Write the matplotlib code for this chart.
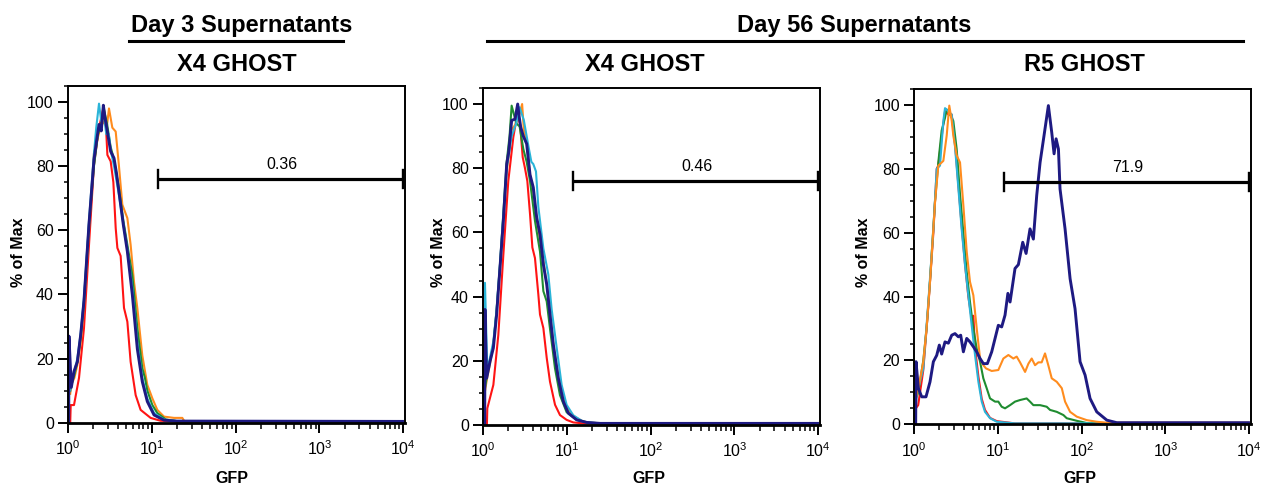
import numpy as np
import matplotlib
matplotlib.use("Agg")
import matplotlib.pyplot as plt
from matplotlib.lines import Line2D
from matplotlib.ticker import LogLocator, MultipleLocator, NullFormatter

plt.rcParams['font.family'] = ['Liberation Sans', 'DejaVu Sans']
plt.rcParams['mathtext.fontset'] = 'custom'
plt.rcParams['mathtext.rm'] = 'Liberation Sans'
plt.rcParams['mathtext.default'] = 'regular'

# ---------------- data: (log10 GFP, % of Max) ----------------
# Panel 1: Day 3 supernatants, X4 GHOST
p1_red = [(0.03, 0), (0.036, 5.5), (0.075, 5.5), (0.135, 14), (0.194, 29.5), (0.254, 55.5), (0.313, 80.4),
          (0.373, 92), (0.425, 98), (0.453, 94), (0.473, 83.5), (0.512, 81.5), (0.544, 75), (0.572, 60.7),
          (0.592, 54.5), (0.631, 52), (0.671, 35.8), (0.711, 31.5), (0.75, 19), (0.81, 8.6), (0.869, 4),
          (0.988, 1.5), (1.107, 0.6), (1.3, 0.4), (3.99, 0.4)]
p1_orange = [(0.03, 9), (0.045, 12), (0.08, 14), (0.115, 18), (0.155, 25), (0.194, 36), (0.254, 60),
             (0.313, 84), (0.35, 88), (0.39, 92), (0.43, 94), (0.465, 92), (0.492, 98), (0.532, 92),
             (0.572, 90.8), (0.611, 80), (0.651, 68), (0.711, 63.8), (0.75, 55.5), (0.79, 44), (0.83, 35.7),
             (0.889, 21), (0.949, 11.8), (1.009, 7.6), (1.068, 4), (1.148, 1.9), (1.267, 1.5), (1.366, 1.5),
             (1.39, 0.5), (3.99, 0.5)]
p1_green = [(0.03, 10), (0.045, 12), (0.08, 15), (0.115, 19), (0.155, 27), (0.194, 38), (0.254, 62),
            (0.313, 80), (0.36, 90), (0.40, 93), (0.43, 98), (0.47, 93), (0.512, 86), (0.552, 82),
            (0.611, 73), (0.663, 63), (0.711, 55.5), (0.77, 46), (0.83, 29.5), (0.889, 17), (0.92, 14),
            (0.949, 10), (1.009, 5.5), (1.068, 3), (1.17, 1), (1.3, 0.5), (3.99, 0.4)]
p1_cyan = [(0.03, 10), (0.045, 13), (0.08, 16), (0.115, 20), (0.155, 28), (0.194, 39), (0.254, 63),
           (0.313, 84), (0.34, 92), (0.373, 99.5), (0.40, 94), (0.43, 96), (0.46, 90), (0.49, 90),
           (0.512, 85), (0.552, 80), (0.611, 71), (0.663, 62), (0.711, 54), (0.77, 42), (0.83, 25),
           (0.889, 14), (0.949, 7.5), (1.029, 3), (1.148, 1), (1.3, 0.5), (3.99, 0.4)]
p1_navy = [(0.012, 0), (0.015, 27), (0.043, 11), (0.075, 16), (0.115, 19), (0.155, 27.4), (0.194, 38),
           (0.254, 62), (0.313, 82), (0.345, 88), (0.373, 93), (0.40, 91), (0.425, 99), (0.445, 95),
           (0.465, 92), (0.49, 88), (0.512, 84.6), (0.552, 82.5), (0.58, 78), (0.611, 72), (0.663, 61.7),
           (0.711, 53.4), (0.77, 40), (0.83, 23), (0.889, 12.8), (0.949, 6.6), (1.029, 2.4), (1.148, 0.8),
           (1.3, 0.5), (3.99, 0.4)]

# Panel 2: Day 56 supernatants, X4 GHOST
p2_red = [(0.05, 0), (0.055, 5.2), (0.127, 12.5), (0.186, 28), (0.246, 53), (0.305, 76), (0.365, 89.7),
          (0.413, 97), (0.445, 93.8), (0.477, 83.4), (0.504, 80), (0.532, 76), (0.564, 65.7), (0.592, 55.3),
          (0.623, 52), (0.663, 40.7), (0.683, 34.4), (0.723, 30.2), (0.763, 20.9), (0.802, 13.5),
          (0.862, 6.3), (0.921, 3.1), (1.0, 1.6), (1.08, 0.8), (1.2, 0.5), (3.99, 0.5)]
p2_orange = [(0.03, 11), (0.055, 15), (0.087, 19), (0.127, 25), (0.166, 35), (0.206, 49), (0.246, 64),
             (0.286, 79), (0.345, 92), (0.40, 94), (0.44, 97), (0.47, 100), (0.49, 92), (0.524, 88),
             (0.564, 78), (0.603, 73), (0.643, 64), (0.683, 58), (0.723, 51), (0.763, 44), (0.802, 35),
             (0.842, 25), (0.901, 14.6), (0.961, 8), (1.02, 4.5), (1.1, 2.5), (1.2, 1), (1.4, 0.5), (3.99, 0.5)]
p2_green = [(0.03, 12), (0.055, 16), (0.087, 20), (0.127, 25), (0.166, 36), (0.206, 50), (0.246, 66),
            (0.286, 82), (0.32, 90), (0.345, 99.5), (0.37, 97), (0.40, 94), (0.44, 93), (0.484, 86),
            (0.524, 82), (0.564, 76), (0.623, 63.6), (0.683, 54), (0.723, 41.7), (0.763, 38.5),
            (0.802, 30), (0.862, 17.6), (0.921, 9.3), (1.0, 4), (1.12, 1.6), (1.3, 0.5), (3.99, 0.5)]
p2_cyan = [(0.024, 0), (0.027, 44.3), (0.055, 16.7), (0.087, 21), (0.127, 26), (0.166, 36), (0.206, 50),
           (0.246, 65), (0.286, 80), (0.345, 90), (0.40, 94), (0.44, 99), (0.49, 95), (0.544, 87),
           (0.58, 82), (0.603, 81.3), (0.635, 79), (0.663, 68), (0.723, 55), (0.782, 46.9), (0.822, 36),
           (0.882, 24), (0.941, 12.5), (1.0, 6.3), (1.08, 3), (1.2, 1), (1.4, 0.5), (3.99, 0.5)]
p2_navy = [(0.024, 0), (0.027, 36), (0.047, 14.6), (0.087, 19.8), (0.127, 24), (0.166, 34.4), (0.206, 49),
           (0.246, 63.6), (0.286, 81.3), (0.31, 85), (0.345, 94.9), (0.385, 95.3), (0.417, 100),
           (0.435, 96), (0.453, 92.8), (0.484, 90), (0.524, 87.6), (0.564, 78), (0.603, 74), (0.643, 64.7),
           (0.683, 59.4), (0.723, 50), (0.763, 43.8), (0.802, 34.4), (0.842, 25), (0.901, 14.6),
           (0.961, 7.3), (1.02, 3.7), (1.12, 1.6), (1.24, 0.8), (1.4, 0.5), (3.99, 0.5)]

# Panel 3: Day 56 supernatants, R5 GHOST
p3_red = [(0.02, 0), (0.022, 5), (0.05, 6), (0.111, 17), (0.171, 37), (0.231, 60), (0.271, 80), (0.29, 81),
          (0.33, 90), (0.37, 98), (0.41, 97), (0.45, 97), (0.489, 88), (0.529, 75), (0.569, 62),
          (0.609, 50), (0.648, 40), (0.688, 33), (0.708, 34), (0.728, 24), (0.768, 15), (0.808, 8),
          (0.847, 4.5), (0.907, 2), (0.987, 1), (1.2, 0.3), (3.99, 0.3)]
p3_green = [(0.02, 8), (0.052, 10), (0.111, 20), (0.15, 30), (0.191, 45), (0.251, 70), (0.29, 82),
            (0.33, 92), (0.37, 96), (0.39, 98.6), (0.43, 97), (0.469, 95), (0.509, 86.2), (0.549, 72),
            (0.589, 60), (0.629, 47.7), (0.668, 38.3), (0.708, 30), (0.748, 23.7), (0.788, 19.6),
            (0.827, 14.4), (0.867, 11.3), (0.907, 8.1), (0.967, 7.1), (1.006, 7.1), (1.046, 5.5),
            (1.086, 5), (1.146, 6), (1.205, 7.1), (1.265, 7.6), (1.344, 8.1), (1.384, 7.1), (1.424, 6),
            (1.504, 6), (1.583, 5.5), (1.623, 4.5), (1.703, 3.9), (1.782, 2.9), (1.822, 1.9),
            (1.941, 1.1), (2.061, 0.4), (3.99, 0.4)]
p3_cyan = [(0.02, 0), (0.025, 7), (0.032, 9), (0.111, 17.5), (0.171, 38.3), (0.231, 61), (0.271, 80),
           (0.31, 81), (0.35, 95), (0.37, 99), (0.41, 98), (0.45, 97), (0.489, 87), (0.529, 74),
           (0.569, 61), (0.609, 49.7), (0.648, 40.4), (0.688, 31), (0.728, 21.7), (0.768, 13.3),
           (0.808, 7.1), (0.847, 3.9), (0.907, 1.9), (0.987, 0.8), (1.2, 0.3), (3.99, 0.3)]
p3_orange = [(0.02, 8), (0.052, 11.3), (0.111, 19.6), (0.15, 30), (0.191, 44.6), (0.251, 69.6), (0.29, 81),
             (0.35, 82.5), (0.39, 90.4), (0.421, 99.8), (0.45, 95), (0.469, 90.4), (0.509, 84.2),
             (0.549, 82), (0.589, 68.5), (0.629, 54), (0.668, 44.6), (0.708, 40.4), (0.748, 30),
             (0.788, 20.6), (0.827, 18.5), (0.859, 17.5), (0.927, 16.7), (1.006, 17), (1.066, 20.6),
             (1.126, 21.7), (1.185, 20.6), (1.225, 21.2), (1.265, 19.4), (1.325, 16.4), (1.365, 19),
             (1.404, 20.6), (1.444, 18.5), (1.484, 19.4), (1.523, 19.4), (1.563, 22.2), (1.603, 18.4),
             (1.643, 14.4), (1.703, 13.3), (1.763, 11.3), (1.802, 7.1), (1.862, 3.9), (1.941, 2.4),
             (2.061, 1.3), (2.18, 0.8), (2.3, 0.5), (3.99, 0.5)]
p3_navy = [(0.02, 0), (0.024, 19.6), (0.052, 11.3), (0.092, 8.6), (0.143, 8.6), (0.191, 13.3), (0.231, 19.6),
           (0.271, 21.6), (0.302, 24.8), (0.33, 22), (0.37, 25.8), (0.41, 25.4), (0.45, 27.9), (0.489, 28.4),
           (0.529, 27.4), (0.557, 27.9), (0.589, 22.7), (0.629, 26.9), (0.668, 25.8), (0.708, 24.3),
           (0.748, 22.7), (0.788, 20.6), (0.827, 19), (0.875, 19), (0.927, 22.7), (0.967, 26.9),
           (1.006, 31), (1.046, 30.5), (1.086, 34.2), (1.12, 41), (1.146, 38.3), (1.205, 48.8),
           (1.245, 50), (1.297, 57), (1.337, 53.5), (1.384, 61.2), (1.424, 58), (1.464, 71.7),
           (1.504, 82), (1.551, 90.4), (1.603, 99.8), (1.643, 91.4), (1.671, 84.7), (1.695, 89.4),
           (1.723, 86.2), (1.742, 73.7), (1.802, 61.2), (1.862, 45.6), (1.921, 36.2), (1.981, 19.6),
           (2.041, 15.4), (2.1, 8.1), (2.18, 3.9), (2.3, 1.3), (2.419, 0.5), (3.99, 0.5)]

gate_labels = ["0.36", "0.46", "71.9"]
gate_range = (11.8, 9800)
gate_level = 76
panel_titles = ["X4 GHOST", "X4 GHOST", "R5 GHOST"]

colors = {"red": "#ff1414", "orange": "#ff8c1e", "green": "#1f8c30",
          "cyan": "#2ab4d8", "navy": "#1e1a82"}

panels = [
    [("red", p1_red), ("orange", p1_orange), ("green", p1_green), ("cyan", p1_cyan), ("navy", p1_navy)],
    [("red", p2_red), ("orange", p2_orange), ("green", p2_green), ("cyan", p2_cyan), ("navy", p2_navy)],
    [("red", p3_red), ("green", p3_green), ("cyan", p3_cyan), ("orange", p3_orange), ("navy", p3_navy)],
]

W, H = 1264, 484
fig = plt.figure(figsize=(W / 100, H / 100), dpi=100)


def fx(px):
    return px / W


def fy(py):
    return 1 - py / H


# axes boxes in pixels: left, top, right, bottom
boxes = [(67.7, 86, 405, 422.7), (482.7, 88, 820, 425), (914, 89, 1251, 424.3)]
ylab_x = [18.3, 438.3, 864]
gfp_x = [232, 649, 1080.3]
title_x = [236.7, 645, 1084.2]

for i, (l, t, r, b) in enumerate(boxes):
    ax = fig.add_axes([fx(l), fy(b), (r - l) / W, (b - t) / H])
    for cname, data in panels[i]:
        arr = np.array(data)
        lw = 2.1 if cname == "navy" else 1.5
        ax.plot(10 ** arr[:, 0], arr[:, 1], color=colors[cname], lw=lw, solid_joinstyle='round')
    ax.set_xscale('log')
    ax.set_xlim(1, 10 ** 4.02)
    ax.set_ylim(0, 105)
    ax.xaxis.set_major_locator(LogLocator(base=10, numticks=10))
    ax.xaxis.set_minor_locator(LogLocator(base=10, subs=np.arange(2, 10), numticks=20))
    ax.xaxis.set_minor_formatter(NullFormatter())
    ax.yaxis.set_major_locator(MultipleLocator(20))
    ax.yaxis.set_minor_locator(MultipleLocator(5))
    ax.tick_params(axis='both', which='major', direction='out', length=7, width=1.4,
                   labelsize=11.5, top=False, right=False)
    ax.tick_params(axis='x', which='major', pad=5)
    ax.tick_params(axis='y', which='major', pad=3)
    ax.tick_params(axis='y', which='minor', direction='out', length=3, width=1.1)
    ax.tick_params(axis='x', which='minor', direction='out', length=4, width=1.1)
    for side in ['left', 'top', 'right']:
        ax.spines[side].set_linewidth(1.4)
    ax.spines['bottom'].set_linewidth(2.0)

    # gate bar
    g0, g1 = gate_range
    ax.plot([g0, g1], [gate_level, gate_level], color='black', lw=2.3, solid_capstyle='butt')
    ax.plot([g0, g0], [gate_level - 2.8, gate_level + 2.8], color='black', lw=1.7)
    ax.plot([g1, g1], [gate_level - 2.8, gate_level + 2.8], color='black', lw=1.7)
    ax.text(np.sqrt(g0 * g1) * 1.05, gate_level + 4.5, gate_labels[i], ha='center', va='center', fontsize=11.5)

    fig.text(fx(ylab_x[i]), fy(252.5), '% of Max', rotation=90, ha='center', va='center',
             fontsize=11.5, fontweight='bold')
    fig.text(fx(gfp_x[i]), fy(483), 'GFP', ha='center', va='baseline', fontsize=11.5, fontweight='bold')
    fig.text(fx(title_x[i]), fy(70.7), panel_titles[i], ha='center', va='baseline',
             fontsize=17, fontweight='bold')

# group headers
fig.text(fx(241.7), fy(31.7), 'Day 3 Supernatants', ha='center', va='baseline', fontsize=17, fontweight='bold')
fig.text(fx(854.3), fy(31.7), 'Day 56 Supernatants', ha='center', va='baseline', fontsize=17, fontweight='bold')
fig.add_artist(Line2D([fx(129), fx(343)], [fy(40.7), fy(40.7)], color='black', lw=2.2))
fig.add_artist(Line2D([fx(487), fx(1243)], [fy(40.7), fy(40.7)], color='black', lw=2.2))

fig.savefig('out.png', dpi=100)
